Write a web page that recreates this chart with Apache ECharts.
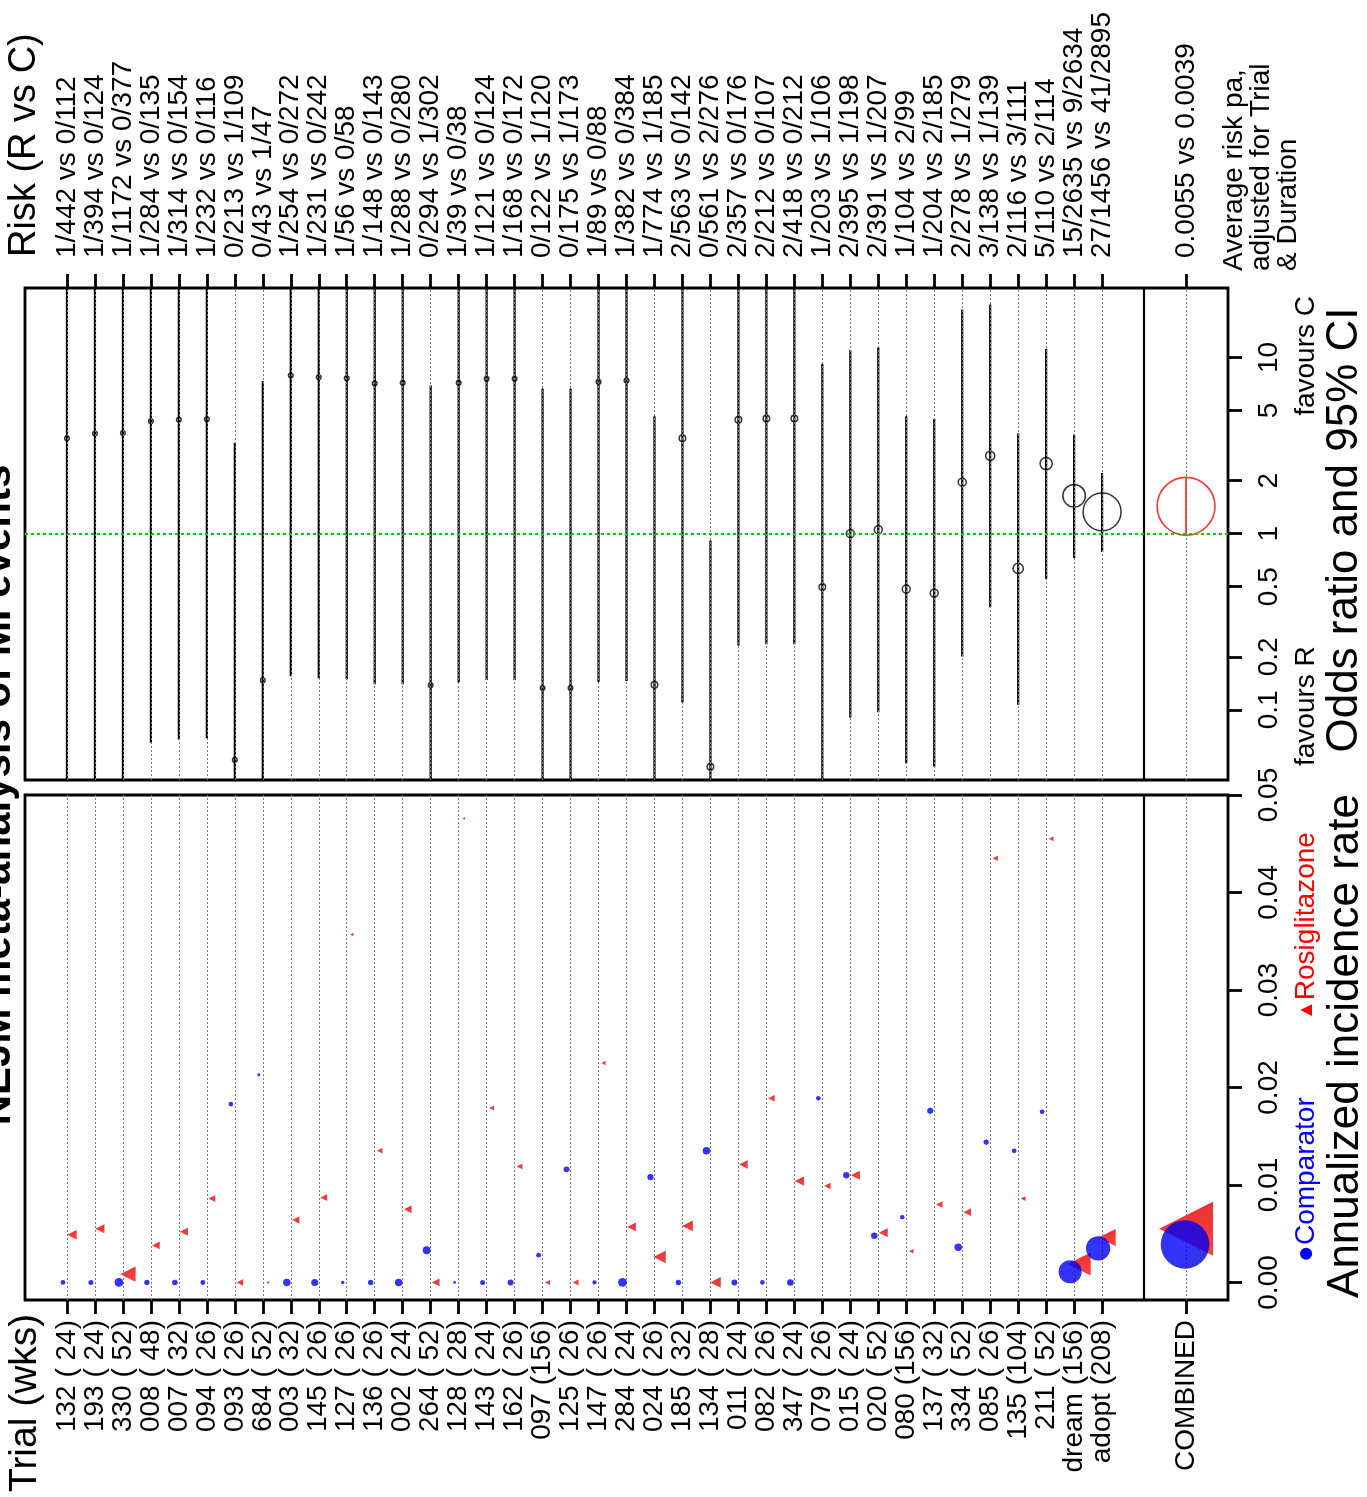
<!DOCTYPE html>
<html>
<head>
<meta charset="utf-8">
<title>NEJM meta-analysis of MI events</title>
<script src="https://cdn.jsdelivr.net/npm/echarts@6.0.0/dist/echarts.min.js"></script>
<style>
  html, body { margin: 0; padding: 0; background: #fff; }
  #chart { width: 1367px; height: 1497px; }
</style>
</head>
<body>
<div id="chart"></div>
<script>
// trials in plotting order: label "id (weeks)"
const trialNames = ['132 ( 24)', '193 ( 24)', '330 ( 52)', '008 ( 48)', '007 ( 32)', '094 ( 26)', '093 ( 26)',
  '684 ( 52)', '003 ( 32)', '145 ( 26)', '127 ( 26)', '136 ( 26)', '002 ( 24)', '264 ( 52)', '128 ( 28)',
  '143 ( 24)', '162 ( 26)', '097 (156)', '125 ( 26)', '147 ( 26)', '284 ( 24)', '024 ( 26)', '185 ( 32)',
  '134 ( 28)', '011 ( 24)', '082 ( 26)', '347 ( 24)', '079 ( 26)', '015 ( 24)', '020 ( 52)', '080 (156)',
  '137 ( 32)', '334 ( 52)', '085 ( 26)', '135 (104)', '211 ( 52)', 'dream (156)', 'adopt (208)'];

// MI events / patients, rosiglitazone (R) and comparator (C)
const eventsR = [1, 1, 1, 1, 1, 1, 0, 0, 1, 1, 1, 1, 1, 0, 1, 1, 1, 0, 0, 1, 1, 1, 2, 0, 2, 2, 2, 1, 2, 2, 1, 1, 2, 3, 2, 5, 15, 27];
const nR = [442, 394, 1172, 284, 314, 232, 213, 43, 254, 231, 56, 148, 288, 294, 39, 121, 168, 122, 175, 89, 382, 774,
  563, 561, 357, 212, 418, 203, 395, 391, 104, 204, 278, 138, 116, 110, 2635, 1456];
const eventsC = [0, 0, 0, 0, 0, 0, 1, 1, 0, 0, 0, 0, 0, 1, 0, 0, 0, 1, 1, 0, 0, 1, 0, 2, 0, 0, 0, 1, 1, 1, 2, 2, 1, 1, 3, 2, 9, 41];
const nC = [112, 124, 377, 135, 154, 116, 109, 47, 272, 242, 58, 143, 280, 302, 38, 124, 172, 120, 173, 88, 384, 185,
  142, 276, 176, 107, 212, 106, 198, 207, 99, 185, 279, 139, 111, 114, 2634, 2895];

// annualized incidence rates
const rateR = [0.0049, 0.0055, 0.00085, 0.0038, 0.0052, 0.0086, 0, 0, 0.0064, 0.0087, 0.0357, 0.0135, 0.0075, 0,
  0.0476, 0.0179, 0.0119, 0, 0, 0.0225, 0.0057, 0.0026, 0.0058, 0, 0.0121, 0.0189, 0.0104, 0.0099, 0.011, 0.0051,
  0.0032, 0.008, 0.0072, 0.0435, 0.0086, 0.0455, 0.0019, 0.0046];
const rateC = [0, 0, 0, 0, 0, 0, 0.0183, 0.0213, 0, 0, 0, 0, 0, 0.0033, 0, 0, 0, 0.0028, 0.0116, 0, 0, 0.0108, 0,
  0.0135, 0, 0, 0, 0.0189, 0.011, 0.0048, 0.0067, 0.0176, 0.0036, 0.0144, 0.0135, 0.0175, 0.0011, 0.0035];

// odds ratio and 95% CI (limits beyond the panel are cut at its edge)
const orEst = [3.48, 3.70, 3.73, 4.35, 4.43, 4.46, 0.052, 0.147, 7.9, 7.73, 7.63, 7.12, 7.18, 0.138, 7.18, 7.57, 7.57,
  0.133, 0.133, 7.27, 7.40, 0.139, 3.48, 0.0476, 4.44, 4.50, 4.50, 0.498, 1.0, 1.054, 0.485, 0.460, 1.96, 2.77,
  0.635, 2.50, 1.64, 1.33];
const orLo = [0.01, 0.01, 0.01, 0.065, 0.068, 0.069, 0.01, 0.01, 0.155, 0.151, 0.149, 0.140, 0.140, 0.01, 0.143, 0.148,
  0.148, 0.01, 0.01, 0.144, 0.146, 0.01, 0.110, 0.01, 0.232, 0.236, 0.236, 0.01, 0.0904, 0.097, 0.0498, 0.0476,
  0.201, 0.383, 0.107, 0.553, 0.727, 0.787];
const orHi = [100, 100, 100, 100, 100, 100, 3.28, 7.33, 100, 100, 100, 100, 100, 6.93, 100, 100, 100, 6.67, 6.67,
  100, 100, 4.64, 100, 0.916, 100, 100, 100, 9.2, 11.0, 11.4, 4.64, 4.48, 18.7, 20.0, 3.70, 11.2, 3.65, 2.21];

// combined estimate
const combinedRisk = '0.0055 vs 0.0039';
const combinedOR = 1.43, combinedLo = 1.0, combinedHi = 2.05;
const combinedRateR = 0.0055, combinedRateC = 0.0039;

const orTicks = [0.1, 0.2, 0.5, 1, 2, 5, 10];
const rateTicks = [0, 0.01, 0.02, 0.03, 0.04, 0.05];

const COMBINED_POS = 40;
const SEP_POS = 38.5;
const FONT = 'Liberation Sans';

const positions = trialNames.map((_, i) => i);
const allPos = positions.concat([COMBINED_POS]);
const riskLabels = trialNames.map((_, i) => `${eventsR[i]}/${nR[i]} vs ${eventsC[i]}/${nC[i]}`);
const topLabels = [''].concat(riskLabels, ['', '', combinedRisk, '']);
const bottomLabels = [''].concat(trialNames, ['', '', 'COMBINED', '']);
const sum = a => a.reduce((s, v) => s + v, 0);
const totalEvents = sum(eventsR) + sum(eventsC);

const chart = echarts.init(document.getElementById('chart'));

function ciLine(params, api) {
  const x = api.value(0);
  const p1 = api.coord([x, api.value(1)]);
  const p2 = api.coord([x, api.value(2)]);
  const cs = params.coordSys;
  const clampY = y => Math.max(cs.y, Math.min(cs.y + cs.height, y));
  return {
    type: 'line',
    shape: { x1: p1[0], y1: clampY(p1[1]), x2: p2[0], y2: clampY(p2[1]) },
    style: { stroke: api.visual('color'), lineWidth: params.seriesName === 'ciComb' ? 1.5 : 2.2 }
  };
}

const dotted = { color: '#7a7a7a', type: [2, 2], width: 1 };
const guideLines = allPos.map(p => ({ xAxis: p, lineStyle: dotted }))
  .concat([{ xAxis: SEP_POS, lineStyle: { color: '#000', type: 'solid', width: 2.2 } }]);

// top axis: echarts negates rotate for 'top', so -90 reads upward like the bottom one
const catAxis = (grid, pos, data, margin, rot) => ({
  gridIndex: grid, type: 'category', position: pos, data: data, boundaryGap: true,
  axisLine: { show: false, onZero: false },
  axisTick: { show: true, alignWithLabel: true, length: 14, interval: (i) => data[i] !== '',
    lineStyle: { color: '#000', width: 2.8 } },
  axisLabel: { interval: 0, rotate: rot, margin: margin, fontSize: 28, fontFamily: FONT, color: '#000' },
  splitLine: { show: false }
});
const hiddenX = grid => ({ gridIndex: grid, type: 'value', min: -1.5, max: 41.5, show: false,
  axisLine: { onZero: false } });

const rotText = (text, x, y, opts) => ({
  type: 'text', x: x, y: y, rotation: Math.PI / 2, silent: true,
  style: Object.assign({
    text: text, fontFamily: FONT, fontSize: 28, fill: '#000',
    align: opts.align || 'left', textAlign: opts.align || 'left',
    verticalAlign: opts.va || 'middle', textVerticalAlign: opts.va || 'middle'
  }, opts.style || {})
});

chart.setOption({
  animation: false,
  backgroundColor: '#fff',
  grid: [
    { left: 25, top: 288, width: 1203, height: 492, show: true, borderColor: '#000', borderWidth: 2.8, backgroundColor: 'transparent' },
    { left: 25, top: 795, width: 1203, height: 505, show: true, borderColor: '#000', borderWidth: 2.8, backgroundColor: 'transparent' }
  ],
  xAxis: [
    catAxis(0, 'top', topLabels, 30, -90),
    hiddenX(0),
    catAxis(1, 'bottom', bottomLabels, 20, 90),
    hiddenX(1)
  ],
  yAxis: [
    {
      gridIndex: 0, type: 'log', logBase: 10, min: 0.04, max: 24.8, position: 'right',
      axisLine: { show: false, onZero: false },
      axisTick: { show: true, length: 14, customValues: orTicks, lineStyle: { color: '#000', width: 2.8 } },
      axisLabel: { customValues: orTicks, rotate: 90, margin: 27, fontSize: 28, fontFamily: FONT, color: '#000',
        formatter: v => String(+Number(v).toPrecision(6)) },
      splitLine: { show: false }, minorTick: { show: false }
    },
    {
      gridIndex: 1, type: 'value', min: -0.0018, max: 0.05, position: 'right',
      axisLine: { show: false, onZero: false },
      axisTick: { show: true, length: 14, customValues: rateTicks, lineStyle: { color: '#000', width: 2.8 } },
      axisLabel: { customValues: rateTicks, rotate: 90, margin: 27, fontSize: 28, fontFamily: FONT, color: '#000',
        formatter: v => Number(v).toFixed(2) },
      splitLine: { show: false }
    }
  ],
  series: [
    // guides: OR panel
    {
      name: 'guidesOR', type: 'line', xAxisIndex: 1, yAxisIndex: 0, data: [], z: 1,
      markLine: {
        silent: true, symbol: 'none', label: { show: false }, animation: false,
        data: guideLines.concat([{ yAxis: 1, lineStyle: { color: '#00d000', type: [3, 3], width: 2 } }])
      }
    },
    // guides: rate panel
    {
      name: 'guidesRate', type: 'line', xAxisIndex: 3, yAxisIndex: 1, data: [], z: 1,
      markLine: { silent: true, symbol: 'none', label: { show: false }, animation: false, data: guideLines }
    },
    {
      name: 'ci', type: 'custom', xAxisIndex: 1, yAxisIndex: 0, z: 3,
      itemStyle: { color: '#000' },
      renderItem: ciLine,
      encode: { x: 0, y: [1, 2] },
      data: positions.map((p, i) => [p, orLo[i], orHi[i]])
    },
    {
      name: 'ciComb', type: 'custom', xAxisIndex: 1, yAxisIndex: 0, z: 3,
      itemStyle: { color: '#ff0000' },
      renderItem: ciLine,
      encode: { x: 0, y: [1, 2] },
      data: [[COMBINED_POS, combinedLo, combinedHi]]
    },
    {
      name: 'or', type: 'scatter', xAxisIndex: 1, yAxisIndex: 0, z: 4,
      symbol: 'circle',
      symbolSize: v => 4.6 * Math.sqrt(v[2]),
      itemStyle: { color: 'rgba(0,0,0,0)', borderColor: '#000', borderWidth: 1.5 },
      data: positions.map((p, i) => [p, orEst[i], eventsR[i] + eventsC[i]])
        .concat([{ value: [COMBINED_POS, combinedOR, totalEvents], itemStyle: { borderColor: '#ff0000', borderWidth: 1.6 } }])
    },
    {
      name: 'Rosiglitazone', type: 'scatter', xAxisIndex: 3, yAxisIndex: 1, z: 4,
      symbol: 'triangle', symbolRotate: 90, symbolOffset: [5, 0],
      symbolSize: v => 0.45 * Math.sqrt(v[2]),
      itemStyle: {
        color: new echarts.graphic.LinearGradient(0, 0, 1, 0, [
          { offset: 0, color: '#ff1010' }, { offset: 1, color: '#e00000' }
        ])
      },
      data: positions.map((p, i) => [p, rateR[i], nR[i]])
        .concat([{ value: [COMBINED_POS, combinedRateR, sum(nR)], symbolOffset: [0, 0] }])
    },
    {
      name: 'Comparator', type: 'scatter', xAxisIndex: 3, yAxisIndex: 1, z: 5,
      symbol: 'circle', symbolOffset: [-4, 0],
      symbolSize: v => 0.45 * Math.sqrt(v[2]),
      itemStyle: {
        color: new echarts.graphic.RadialGradient(0.42, 0.42, 0.7, [
          { offset: 0, color: '#0000ff' }, { offset: 0.7, color: '#0000ee' }, { offset: 1, color: '#0000a8' }
        ])
      },
      data: positions.map((p, i) => [p, rateC[i], nC[i]])
        .concat([{ value: [COMBINED_POS, combinedRateC, sum(nC)], symbolOffset: [-1, 0] }])
    }
  ],
  graphic: [
    rotText('NEJM meta-analysis of MI events', -2, 795, { align: 'center', style: { fontSize: 42, fontWeight: 'bold' } }),
    rotText('Risk (R vs C)', 25, 257, { style: { fontSize: 38 } }),
    rotText('Trial (wks)', 25, 1492, { style: { fontSize: 39 } }),
    rotText('Average risk pa,\nadjusted for Trial\n& Duration', 1221, 271, { va: 'top', style: { lineHeight: 27 } }),
    rotText('favours R', 1306, 766, {}),
    rotText('favours C', 1306, 296, { align: 'right' }),
    rotText('Odds ratio and 95% CI', 1345, 530, { align: 'center', style: { fontSize: 44 } }),
    rotText('Annualized incidence rate', 1346, 1046, { align: 'center', style: { fontSize: 44 } }),
    rotText('{d|●}{t|Comparator}', 1306, 1262, { style: { rich: {
      d: { fontSize: 28, fill: '#0000ff', fontFamily: FONT }, t: { fontSize: 28, fill: '#0000ff', fontFamily: FONT } } } }),
    rotText('{d|▲}{t|Rosiglitazone}', 1306, 1020, { style: { rich: {
      d: { fontSize: 20, fill: '#ff0000', fontFamily: FONT }, t: { fontSize: 28, fill: '#ff0000', fontFamily: FONT } } } })
  ]
});
</script>
</body>
</html>
